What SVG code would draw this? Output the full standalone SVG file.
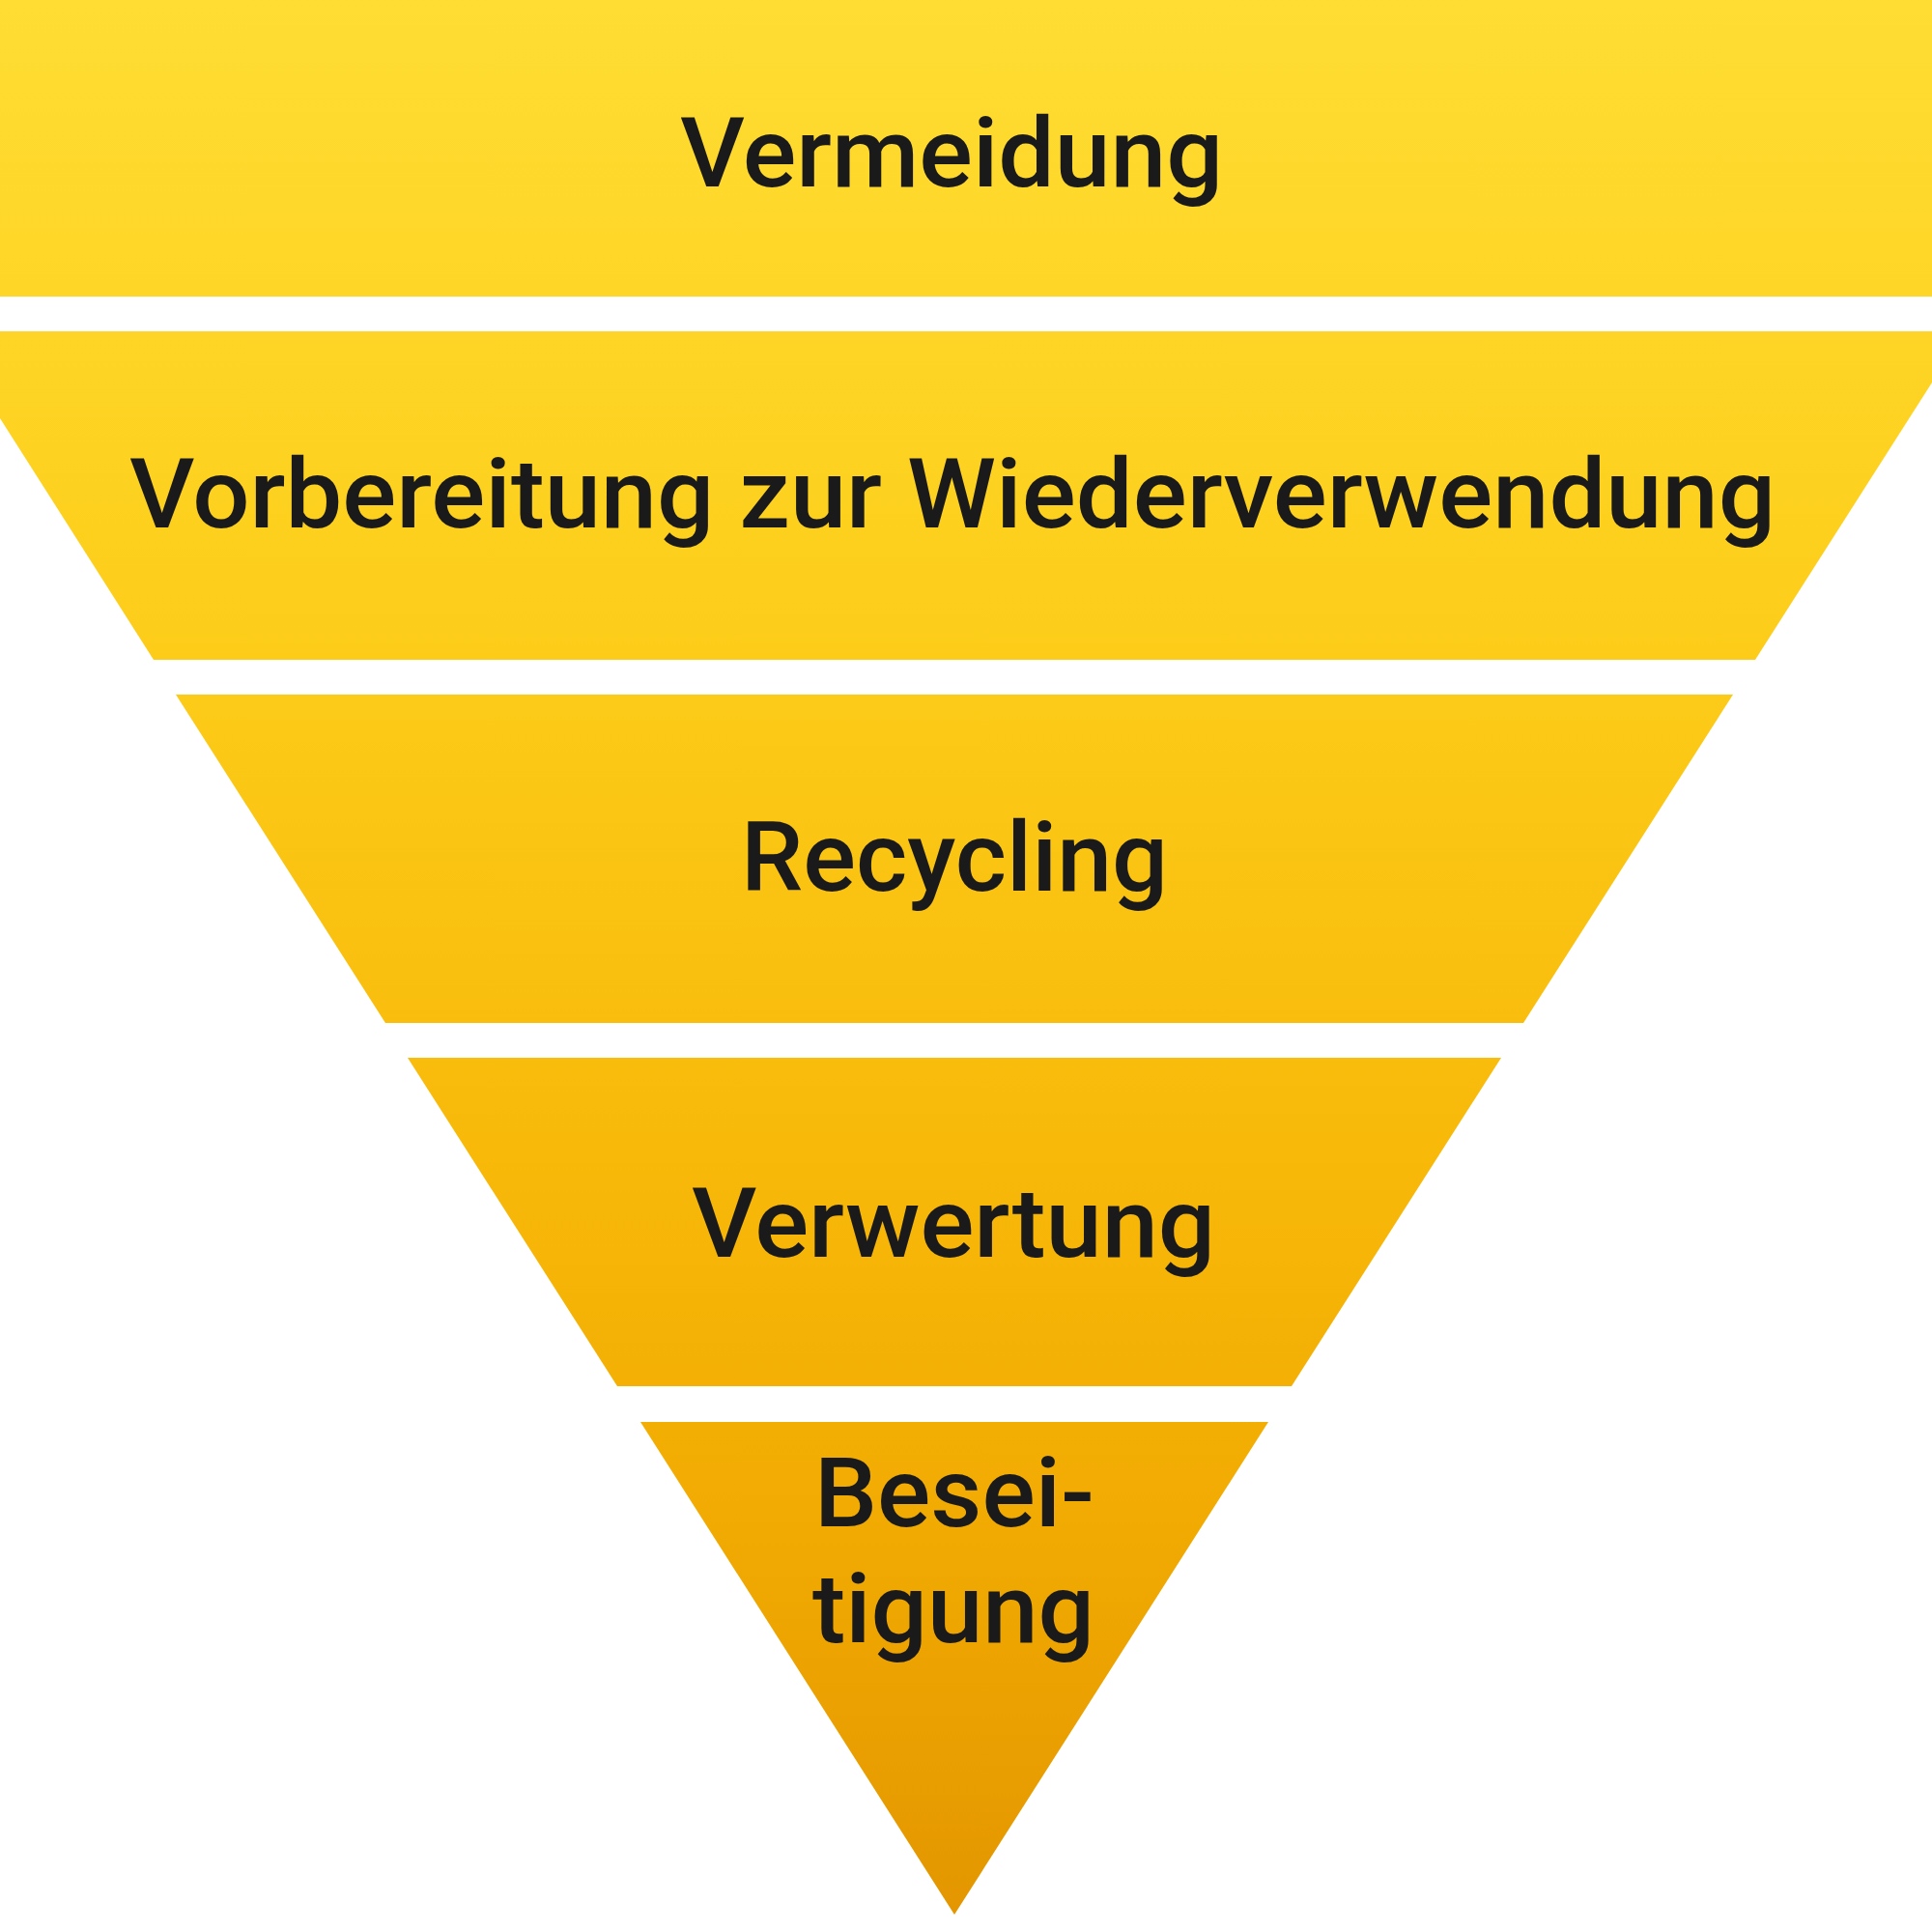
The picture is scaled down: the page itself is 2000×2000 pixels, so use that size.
<svg xmlns="http://www.w3.org/2000/svg" width="2000" height="2000" viewBox="0 0 2000 2000">
  <defs>
    <linearGradient id="fill" gradientUnits="userSpaceOnUse" x1="0" y1="0" x2="0" y2="1985">
      <stop offset="0" stop-color="#FFDD33"/>
      <stop offset="0.3" stop-color="#FDCF1C"/>
      <stop offset="0.6" stop-color="#F8B909"/>
      <stop offset="0.8" stop-color="#F1AA02"/>
      <stop offset="1" stop-color="#E39600"/>
    </linearGradient>
    <style>
      .band { fill: url(#fill); }
      .label { font-family: Roboto, "Liberation Sans", sans-serif; font-weight: 500; font-size: 101px; fill: #1a1a1a; text-anchor: middle; }
    </style>
  </defs>
  <rect width="2000" height="2000" fill="#ffffff"/>
  <g id="vermeidung">
    <rect class="band" x="0" y="0" width="2000" height="307"/>
    <text class="label" x="985" y="193" textLength="562" lengthAdjust="spacingAndGlyphs">Vermeidung</text>
  </g>
  <g id="vorbereitung">
    <polygon class="band" points="0,343 2000,343 2000,396 1817,683 159,683 0,433"/>
    <text class="label" x="986" y="546" textLength="1704" lengthAdjust="spacingAndGlyphs">Vorbereitung zur Wiederverwendung</text>
  </g>
  <g id="recycling">
    <polygon class="band" points="182,719 1794,719 1577,1059 399,1059"/>
    <text class="label" x="988" y="922" textLength="442" lengthAdjust="spacingAndGlyphs">Recycling</text>
  </g>
  <g id="verwertung">
    <polygon class="band" points="422,1095 1554,1095 1337,1435 639,1435"/>
    <text class="label" x="987" y="1301" textLength="542" lengthAdjust="spacingAndGlyphs">Verwertung</text>
  </g>
  <g id="beseitigung">
    <polygon class="band" points="663,1472 1313,1472 988,1982"/>
    <text class="label" x="988" y="1580" textLength="290" lengthAdjust="spacingAndGlyphs">Besei-</text>
    <text class="label" x="987" y="1700" textLength="292" lengthAdjust="spacingAndGlyphs">tigung</text>
  </g>
  <g id="connectors"/>
</svg>
